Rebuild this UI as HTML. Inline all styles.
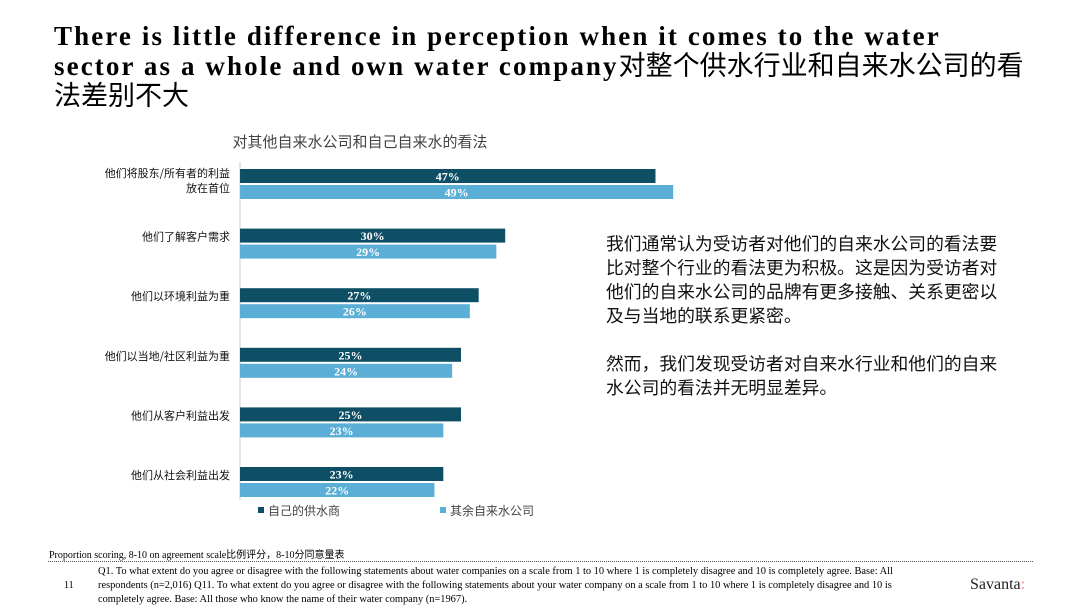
<!DOCTYPE html>
<html><head><meta charset="utf-8"><style>
body{margin:0;width:1080px;height:608px;background:#fff;position:relative;overflow:hidden;font-family:"Liberation Sans","Noto Sans CJK SC",sans-serif}
.t{position:absolute;left:54px;top:22px;width:1010px;font-family:"Liberation Serif","Noto Sans CJK SC",serif;font-weight:bold;font-size:27px;line-height:28px;letter-spacing:2.1px;color:#000;white-space:nowrap}
.t span{font-family:"Noto Sans CJK SC",sans-serif;font-weight:normal;letter-spacing:0}
.side{position:absolute;left:606px;top:231px;width:400px;font-family:"Noto Sans CJK SC",sans-serif;font-size:17.8px;line-height:24px;color:#111}
.f1{position:absolute;left:49px;top:546px;font-family:"Liberation Serif","Noto Sans CJK SC",serif;font-size:10px}
.f2{position:absolute;left:98px;top:565px;width:800px;font-family:"Liberation Serif","Noto Sans CJK SC",serif;font-size:10.4px;line-height:14px}
</style></head><body>
<div class="t">There is little difference in perception when it comes to the water<br>sector as a whole and own water company<span>对整个供水行业和自来水公司的看</span><br><span>法差别不大</span></div>
<svg id="chart" width="1080" height="608" style="position:absolute;left:0;top:0">
<text x="360" y="147" text-anchor="middle" font-family="Noto Sans CJK SC" font-size="15" fill="#444">对其他自来水公司和自己自来水的看法</text>
<line x1="240" y1="162" x2="240" y2="500" stroke="#ccc"/>
</svg>
<div class="side">我们通常认为受访者对他们的自来水公司的看法要比对整个行业的看法更为积极。这是因为受访者对他们的自来水公司的品牌有更多接触、关系更密以及与当地的联系更紧密。<br><br>然而，我们发现受访者对自来水行业和他们的自来水公司的看法并无明显差异。</div>
<div class="f1">Proportion scoring, 8-10 on agreement scale比例评分，8-10分同意量表</div>
<div style="position:absolute;left:48px;top:561px;width:985px;border-top:1px dotted #555"></div>
<div style="position:absolute;left:64px;top:580px;font-family:'Liberation Serif',serif;font-size:10px">11</div>
<div class="f2">Q1. To what extent do you agree or disagree with the following statements about water companies on a scale from 1 to 10 where 1 is completely disagree and 10 is completely agree. Base: All respondents (n=2,016) Q11. To what extent do you agree or disagree with the following statements about your water company on a scale from 1 to 10 where 1 is completely disagree and 10 is completely agree. Base: All those who know the name of their water company (n=1967).</div>
<div style="position:absolute;left:970px;top:576px;font-family:'Liberation Serif',serif;font-size:16px;color:#222">Savanta<span style="color:#e87">:</span></div>
<script>
const categories=[["他们将股东/所有者的利益","放在首位"],["他们了解客户需求"],["他们以环境利益为重"],["他们以当地/社区利益为重"],["他们从客户利益出发"],["他们从社会利益出发"]];
const ownCompany=[47,30,27,25,25,23];
const otherCompanies=[49,29,26,24,23,22];
const seriesNames=["自己的供水商","其余自来水公司"];
const colors=["#0f4f66","#5bafd6"];
const svg=document.getElementById('chart');const NS="http://www.w3.org/2000/svg";
const x0=240,pxPer=8.84;
const xs=v=>x0+v*pxPer;
const yTop=i=>169+i*59.6;
function mk(t,a){const e=document.createElementNS(NS,t);for(const k in a)e.setAttribute(k,a[k]);svg.appendChild(e);return e;}
categories.forEach((c,i)=>{
 const y=yTop(i);
 [ownCompany,otherCompanies].forEach((s,j)=>{
  const yy=y+j*16;
  const r=mk('rect',{x:x0,y:yy,width:xs(s[i])-x0,height:14,fill:colors[j]});
  
  
  const t=mk('text',{x:(x0+xs(s[i]))/2,y:yy+11.5,'text-anchor':'middle','font-family':'Liberation Serif','font-size':12,'font-weight':'bold',fill:'#fff'});
  t.textContent=s[i]+'%';
  
  
 });
 const ly=c.length>1?y+8:y+12;
 c.forEach((line,k)=>{
  const t=mk('text',{x:230,y:ly+k*15,'text-anchor':'end','font-family':'Noto Sans CJK SC','font-size':11,fill:'#111'});
  t.textContent=line;
  
  
 });
});
seriesNames.forEach((n,j)=>{
 const lx=258+j*182;
 const r=mk('rect',{x:lx,y:507,width:6,height:6,fill:colors[j]});
 
 
 const t=mk('text',{x:lx+10,y:515,'font-family':'Noto Sans CJK SC','font-size':12,fill:'#444'});
 t.textContent=n;
 
 
});
</script>
</body></html>
